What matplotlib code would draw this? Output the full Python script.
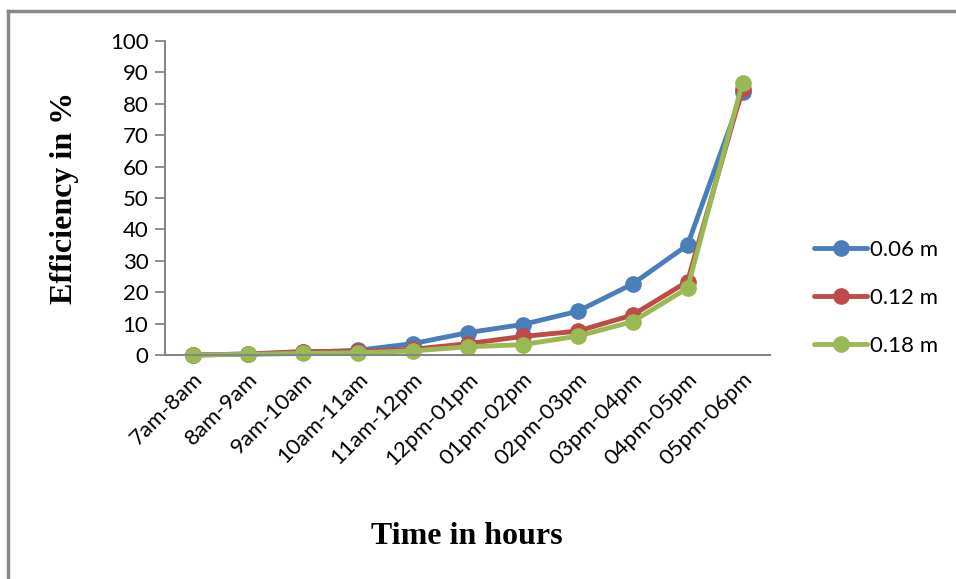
import matplotlib
matplotlib.use("Agg")
import matplotlib.pyplot as plt
from matplotlib.lines import Line2D

categories = ["7am-8am", "8am-9am", "9am-10am", "10am-11am", "11am-12pm", "12pm-01pm",
              "01pm-02pm", "02pm-03pm", "03pm-04pm", "04pm-05pm", "05pm-06pm"]
s006 = [0.0, 0.3, 0.8, 1.5, 3.6, 7.1, 9.7, 13.9, 22.6, 35.0, 83.6]
s012 = [0.0, 0.3, 1.1, 1.2, 1.8, 3.6, 5.9, 7.6, 12.7, 23.4, 84.8]
s018 = [0.0, 0.2, 0.5, 0.7, 1.3, 2.6, 3.3, 6.0, 10.6, 21.3, 86.7]
series_names = ["0.06 m", "0.12 m", "0.18 m"]
colors = ["#4a7ebb", "#be4b48", "#98b954"]
yticks = list(range(0, 101, 10))

fig = plt.figure(figsize=(9.56, 5.79), dpi=100)
ax = fig.add_axes([165/956, 1-355/579, (770-165)/956, (355-41)/579])

x = list(range(len(categories)))
for vals, c, n in zip([s006, s012, s018], colors, series_names):
    ax.plot(x, vals, color=c, lw=3.5, marker="o", ms=11, label=n,
            solid_joinstyle="round", solid_capstyle="round", clip_on=False)

ax.set_xlim(-0.5, len(categories) - 0.5)
ax.set_ylim(0, 100)
ax.set_yticks(yticks)
ax.set_xticks(x)
ax.set_xticklabels(categories, rotation=45, ha="right", va="top", rotation_mode="anchor")
for lab in ax.get_xticklabels() + ax.get_yticklabels():
    lab.set_fontfamily("Lato")
    lab.set_fontsize(16)
ax.tick_params(axis="x", length=0, pad=10)
ax.tick_params(axis="y", length=7, width=1.3, color="#868686", direction="out", pad=5)
for sp in ["top", "right"]:
    ax.spines[sp].set_visible(False)
for sp in ["left", "bottom"]:
    ax.spines[sp].set_color("#868686")
    ax.spines[sp].set_linewidth(1.5)

ax.set_ylabel("Efficiency in %", fontfamily="Liberation Serif", fontweight="bold",
              fontsize=23, labelpad=22)
fig.text(467/956, 1-537/579, "Time in hours", fontfamily="Liberation Serif",
         fontweight="bold", fontsize=23, ha="center", va="center")

handles = [Line2D([0], [0], color=c, lw=3.5, marker="o", ms=11, solid_capstyle="round")
           for c in colors]
leg = fig.legend(handles, series_names, loc="center left",
                 bbox_to_anchor=(794/956, 1-298/579), frameon=False,
                 prop={"family": "Lato", "size": 16}, handlelength=2.4,
                 labelspacing=1.25, handletextpad=0.1)

# outer border (left and top only visible)
fig.add_artist(Line2D([8/956, 8/956], [0, 1-11/579], color="#888888", lw=2.5,
                      transform=fig.transFigure))
fig.add_artist(Line2D([8/956, 1], [1-11/579, 1-11/579], color="#888888", lw=2.5,
                      transform=fig.transFigure))

fig.savefig("out.png", dpi=100)
